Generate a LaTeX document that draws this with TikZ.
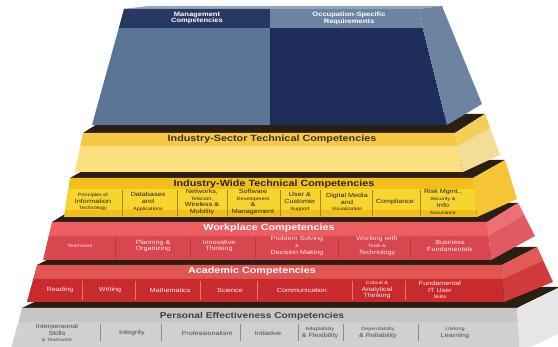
\documentclass[tikz,border=0pt]{standalone}
\usepackage{fontspec}
\setmainfont{Liberation Sans}[FakeStretch=1.2]
\newcommand{\smline}[1]{{\fontsize{4.6}{5}\selectfont #1}}
\definecolor{stripdark}{HTML}{2A1F12}
\definecolor{steel}{HTML}{5B7595}
\definecolor{steelside}{HTML}{6C84A1}
\definecolor{navy}{HTML}{1E2D5B}
\definecolor{sectortop}{HTML}{F7C843}
\definecolor{sectorlow}{HTML}{FBE07D}
\definecolor{sectorsidetop}{HTML}{F5CE5A}
\definecolor{sectorside}{HTML}{F2DE94}
\definecolor{widegold}{HTML}{F4BE1A}
\definecolor{widerow}{HTML}{F8D42E}
\definecolor{wideside}{HTML}{F5C535}
\definecolor{worktop}{HTML}{EE5D61}
\definecolor{worklow}{HTML}{D84650}
\definecolor{worksidetop}{HTML}{ED7076}
\definecolor{workside}{HTML}{E05A62}
\definecolor{acadtop}{HTML}{E15553}
\definecolor{acadlow}{HTML}{C92A2E}
\definecolor{acadsidetop}{HTML}{E05A58}
\definecolor{acadside}{HTML}{D03A3C}
\definecolor{perstop}{HTML}{C6C6C6}
\definecolor{perslow}{HTML}{D0D0D0}
\definecolor{persside}{HTML}{E6E6E6}
\begin{document}
\begin{tikzpicture}[x=1pt,y=-1pt,
    layertitle/.style={font=\bfseries\fontsize{9}{10}\selectfont, inner sep=0pt},
    itemtext/.style={font=\fontsize{6}{6.8}\selectfont, align=center, inner sep=0pt},
    divider/.style={line width=0.6pt}]
\clip (0,0) rectangle (558,347);
\fill[white] (0,0) rectangle (558,347);

% personal effectiveness
\fill[stripdark] (22,308) -- (517,308) -- (560,287) -- (65,287) -- cycle;
\fill[perstop] (22,308) -- (517,308) -- (518.1,322) -- (18.4,322) -- cycle;
\fill[perslow] (18.4,322) -- (518.1,322) -- (520,352) -- (10,352) -- cycle;
\fill[persside] (517,308) -- (560,287) -- (575,326) -- (520,352) -- cycle;
\node[layertitle, text=black!75, font=\bfseries\fontsize{8.5}{10}\selectfont] (pers) at (252,316) {Personal Effectiveness Competencies};
\foreach \x in {100,161,240,298,343,418}
    \draw[divider, black!45] (\x,324) -- (\x,341);
\foreach \x/\t [count=\i] in {57/{Interpersonal\\Skills\\\smline{\& Teamwork}}, 132/Integrity, 207/Professionalism,
    268/Initiative, 320/{\smline{Adaptability}\\\& Flexibility}, 378/{\smline{Dependability}\\\& Reliability}, 455/{\smline{Lifelong}\\Learning}}
    \node[itemtext, text=black!70] (pers\i) at (\x,333) {\t};

% academic
\fill[stripdark] (37,265) -- (502,265) -- (537,247) -- (72,247) -- cycle;
\fill[acadtop] (37,265) -- (502,265) -- (502.8,279) -- (33.2,279) -- cycle;
\fill[acadlow] (33.2,279) -- (502.8,279) -- (504,302) -- (27,302) -- cycle;
\fill[acadside] (502,265) -- (537,247) -- (553,282) -- (504,302) -- cycle;
\fill[acadsidetop] (502,265) -- (537,247) -- (543,260.6) -- (502.8,279) -- cycle;
\node[layertitle, text=white] (acad) at (252,271) {Academic Competencies};
\foreach \x in {82,135,200,257,352,405}
    \draw[divider, acadtop!80] (\x,281) -- (\x,300);
\foreach \x/\t [count=\i] in {60/Reading, 110/Writing, 170/Mathematics, 230/Science, 302/Communication,
    377/{\smline{Critical \&}\\Analytical\\Thinking}, 440/{Fundamental\\IT User\\\smline{Skills}}}
    \node[itemtext, text=red!8] (acad\i) at (\x,290) {\t};

% workplace
\fill[stripdark] (52,222) -- (487,222) -- (518,203) -- (83,203) -- cycle;
\fill[worktop] (52,222) -- (487,222) -- (488.5,236) -- (48.7,236) -- cycle;
\fill[worklow] (48.7,236) -- (488.5,236) -- (491,260) -- (43,260) -- cycle;
\fill[workside] (487,222) -- (518,203) -- (535,236) -- (491,260) -- cycle;
\fill[worksidetop] (487,222) -- (518,203) -- (524.3,215.1) -- (488.5,236) -- cycle;
\node[layertitle, text=white] (work) at (269,228) {Workplace Competencies};
\foreach \x in {115,190,255,338,410}
    \draw[divider, worklow!80!black] (\x,238) -- (\x,258);
\foreach \x/\t [count=\i] in {80/\smline{Teamwork}, 153/{Planning \&\\Organizing}, 219/{Innovative\\Thinking},
    297/{Problem Solving\\\smline{\&}\\Decision Making}, 377/{Working with\\\smline{Tools \&}\\Technology}, 450/{Business\\Fundamentals}}
    \node[itemtext, text=red!10] (work\i) at (\x,246) {\t};

% industry-wide
\fill[stripdark] (70,178) -- (473,178) -- (505,160) -- (102,160) -- cycle;
\fill[widegold] (70,178) -- (473,178) -- (477,217) -- (64,217) -- cycle;
\fill[widerow] (68.5,189) -- (474.2,189) -- (476.2,210) -- (65.1,210) -- cycle;
\fill[wideside] (473,178) -- (505,160) -- (517,199) -- (477,217) -- cycle;
\node[layertitle, text=black!85] (wide) at (274,184) {Industry-Wide Technical Competencies};
\foreach \x in {122,177,227,280,320,372,420}
    \draw[divider, widegold!70!black] (\x,190) -- (\x,216);
\foreach \x/\t [count=\i] in {93/{\smline{Principles of}\\Information\\\smline{Technology}}, 148/{Databases\\and\\\smline{Applications}},
    202/{Networks,\\\smline{Telecom,}\\Wireless \&\\Mobility}, 253/{Software\\\smline{Development}\\\&\\Management},
    300/{User \&\\Customer\\\smline{Support}}, 347/{Digital Media\\and\\\smline{Visualization}}, 395/Compliance,
    443/{Risk Mgmt.,\\\smline{Security \&}\\Info\\\smline{Assurance}}}
    \node[itemtext, text=black!85] (wide\i) at (\x,202) {\t};

% industry-sector
\fill[stripdark] (83,133) -- (455,133) -- (485,114) -- (113,114) -- cycle;
\fill[sectortop] (83,133) -- (455,133) -- (457.7,146) -- (80.3,146) -- cycle;
\fill[sectorlow] (80.3,146) -- (457.7,146) -- (463,172) -- (75,172) -- cycle;
\fill[sectorside] (455,133) -- (485,114) -- (500,155) -- (463,172) -- cycle;
\fill[sectorsidetop] (455,133) -- (485,114) -- (490,127.7) -- (457.7,146) -- cycle;
\node[layertitle, text=black!80] (sector) at (272,139) {Industry-Sector Technical Competencies};

% management and occupation
\fill[steelside!70!white] (124,9) -- (418,9) -- (442,6) -- (148,6) -- cycle;
\fill[steel] (118.8,28) -- (270,28) -- (270,125) -- (92,125) -- cycle;
\fill[navy] (270,28) -- (422.7,28) -- (447,125) -- (270,125) -- cycle;
\fill[navy!95!white] (124,9) -- (270,9) -- (270,28) -- (118.8,28) -- cycle;
\fill[steelside] (270,9) -- (418,9) -- (422.7,28) -- (270,28) -- cycle;
\fill[steelside] (418,9) -- (442,6) -- (482,104) -- (447,125) -- cycle;
\node[font=\bfseries\fontsize{6.3}{6.8}\selectfont, align=center, text=white] (mgmt) at (197,18) {Management\\Competencies};
\node[font=\bfseries\fontsize{6.3}{6.8}\selectfont, align=center, text=white] (occ) at (349,18) {Occupation-Specific\\Requirements};
\end{tikzpicture}
\end{document}
